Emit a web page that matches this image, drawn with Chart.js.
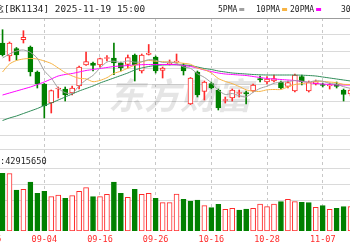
<!DOCTYPE html>
<html>
<head>
<meta charset="utf-8">
<script src="https://cdn.jsdelivr.net/npm/chart.js@4"></script>
<style>
html, body { margin: 0; padding: 0; background: #fff; }
canvas { display: block; }
</style>
</head>
<body>
<canvas id="kline" width="350" height="250"></canvas>
<script>
// trading days shown in the window (first two are left of the visible area)
const dates = ['08-25','08-26','08-27','08-28','08-29','09-01','09-02','09-03','09-04','09-05',
  '09-08','09-09','09-10','09-11','09-12','09-15','09-16','09-17','09-18','09-19',
  '09-22','09-23','09-24','09-25','09-26','09-29','09-30','10-09','10-10','10-13',
  '10-14','10-15','10-16','10-17','10-20','10-21','10-22','10-23','10-24','10-27',
  '10-28','10-29','10-30','10-31','11-03','11-04','11-05','11-06','11-07','11-10',
  '11-11','11-12','11-13'];

const openP = [null,null,1092,1079,1086.5,1095.3,1088,1063,1051,1032,1046,1046,1042,1049,1070,1072,1070,1076.5,1077,1072,
  1070.5,1080,1064,1080.5,1078,1064.5,1071,1073,1070,1031,1063,1043.5,1051.5,1045,1034.5,1037,1041.5,1042.5,1044,1056.5,
  1053,1054,1053,1048.5,1044,1058.5,1044,1051,1050.5,1049,1051,1045,1041];
const closeP = [null,null,1080.3,1092,1080,1097.7,1063,1051,1029,1044.5,1047,1040,1047,1068,1073.5,1069.5,1076.5,1077.5,1072,1067,
  1077.5,1070,1080,1082,1064,1067,1071.5,1074,1064,1057,1040,1053,1047,1027,1035.5,1045,1042,1041,1050,1055,
  1056,1056.5,1047,1052.5,1060,1053,1052.5,1053.5,1049.5,1049.5,1048.5,1040.5,1045];
const highP = [null,null,1105.3,1093,1087.5,1104.3,1089,1064,1051.5,1045,1048,1048,1049,1069,1083,1073,1077,1079.5,1092,1073,
  1080,1081,1081,1090.5,1079,1068,1075,1081,1071.5,1057.5,1064,1054,1053,1046,1038,1046,1045,1044,1051,1059,
  1058.5,1060,1054,1054,1061,1060,1054,1055,1052,1052,1053,1046,1046];
const lowP = [null,null,1079,1074,1075,1092,1059,1047,1017,1022,1037,1034,1040,1046,1069.5,1064,1068,1074,1060.3,1064,
  1067,1054,1062,1080,1062,1057,1070,1072,1060,1030.5,1038,1035,1046,1025,1032,1034,1038,1031,1043,1053,
  1051,1053,1046,1047,1043,1050,1043,1050,1048,1046,1047,1034,1039];

// volume, millions of shares
const volume = [null,null,57.7,57.5,41,41.7,49,37.7,39.7,34.3,36,32.7,35.3,39.7,43.3,34.3,34.3,36.7,49,37.7,
  33.7,41.7,36.7,37.7,32.7,28.3,28.3,37,31.7,30,31,25.3,23.3,26.7,21.7,22.7,21,22,22.7,27,
  24.3,27,29.3,31.7,29.3,28.7,28.3,23.7,25.3,21.7,22.7,24.3,24.3];

const ma5 = [null,null,1077,1081,1084,1085,1082.6,1076.7,1064.1,1057,1046.9,1042.3,1041.5,1049.3,1055.1,1059.6,1066.9,1073,1073.8,1072.5,
  1074.1,1072.8,1073.3,1075.3,1074.7,1072.6,1072.9,1071.7,1068.1,1066.7,1061.3,1057.6,1052.2,1044.8,1040.5,1041.5,1039.3,1038.1,1042.7,1046.6,
  1048.8,1051.7,1052.9,1053.4,1054.4,1053.8,1053,1054.3,1053.7,1051.6,1050.7,1048.3,1046.6];
const ma10 = [null,null,1063,1071,1074.5,1076,1076.5,1076,1074,1071.5,1067,1062.4,1059.1,1056.7,1056.1,1053.3,1054.6,1057.3,1061.6,1063.8,
  1066.9,1069.9,1073.2,1074.6,1073.6,1073.4,1072.9,1072.5,1071.7,1070.7,1067,1065.3,1062,1056.5,1053.6,1051.4,1048.5,1045.2,1043.8,1043.6,
  1045.2,1045.5,1045.5,1048.1,1050.5,1051.3,1052.4,1053.6,1053.6,1053,1052.3,1050.7,1050.5];
const ma20 = [null,null,1040,1042,1044,1046,1048,1050.5,1053,1056,1059,1060.5,1061.5,1063,1064.5,1065.5,1066.5,1067.5,1068.5,1069,
  1069.5,1070,1070.3,1070.5,1070.5,1070.5,1070.5,1070.3,1069.5,1068.5,1067,1065,1063.5,1062,1061,1060.5,1060,1059.5,1058.5,1057.5,
  1056.5,1056,1055.5,1055,1054.5,1053.5,1052.5,1051.5,1051,1050.5,1050,1050,1050];
const ma30 = [null,null,1014.5,1017,1019,1021.5,1024,1026.5,1029.5,1032,1035,1038,1041,1044,1046.5,1049,1052,1054.5,1057,1059.5,
  1062,1065,1067,1068.5,1069.5,1070,1070.2,1070.2,1070,1069.5,1068,1066.5,1065.5,1064,1063,1062,1061.5,1061,1060.5,1060.2,
  1060,1060,1060,1060,1060,1059.8,1059.5,1059,1058,1057,1056,1055,1054];

const tickDates = ['08-25','09-04','09-16','09-26','10-16','10-28','11-07'];
const priceTicks = [1000, 1016.7, 1033.4, 1050.1, 1066.9, 1083.6, 1100.3, 1117];
const volTicks = [14.5, 30.5, 47, 63, 82];
const maNames = ['5PMA', '10PMA', '20PMA', '30PMA'];
const lastVolume = '42915650';

const RED = '#ff2a2a';
const GREEN = '#008000';
const maColors = ['#a0a0a0', '#f7b343', '#ff00ff', '#2e8b57'];

// visible window
const xMin = 1.635, xMax = 51.92;

const idx = dates.map((d, i) => i).filter(i => closeP[i] != null);
const up = idx.map(i => closeP[i] >= openP[i]);
// volume colour follows close against previous close
const volUp = idx.map((i, k) => k === 0 ? closeP[i] >= openP[i] : closeP[i] >= closeP[idx[k - 1]]);

function linePts(arr) {
  return idx.map(i => ({ x: i, y: arr[i] }));
}

const maSets = [ma5, ma10, ma20, ma30].map((arr, k) => ({
  type: 'line',
  label: maNames[k],
  data: linePts(arr),
  yAxisID: 'y',
  borderColor: maColors[k],
  borderWidth: 1,
  pointRadius: 0,
  tension: 0.25,
  order: 0
}));

const overlay = {
  id: 'overlay',
  beforeDatasetsDraw(chart) {
    const ctx = chart.ctx;
    ctx.save();
    ctx.font = 'italic bold 36px "Noto Sans CJK SC"';
    ctx.fillStyle = 'rgba(0,0,0,0.1)';
    ctx.textAlign = 'center';
    ctx.textBaseline = 'middle';
    ctx.fillText('东方财富', 180, 95);
    ctx.restore();
  },
  afterDraw(chart) {
    const ctx = chart.ctx;
    const area = chart.chartArea;
    ctx.save();
    // top border
    ctx.strokeStyle = '#9c9c9c';
    ctx.lineWidth = 1;
    ctx.beginPath();
    ctx.moveTo(0, area.top + 0.5);
    ctx.lineTo(350, area.top + 0.5);
    ctx.stroke();

    ctx.fillStyle = '#222';
    ctx.textBaseline = 'alphabetic';
    ctx.font = '9.4px "DejaVu Sans Mono", "Noto Sans CJK SC"';
    const head = '算力概念';
    ctx.fillText(head, 4 - ctx.measureText(head).width, 12);
    ctx.fillText('[BK1134] 2025-11-19 15:00', 4, 12);

    // MA legend
    const legX = [218, 256, 290, 341];
    ctx.font = '8px "DejaVu Sans Mono"';
    maNames.forEach((n, k) => {
      ctx.fillStyle = '#222';
      ctx.fillText(n, legX[k], 12);
      const w = ctx.measureText(n).width;
      ctx.fillStyle = maColors[k];
      ctx.fillRect(legX[k] + w + 2, 8, 5, 3);
    });

    // volume readout
    ctx.fillStyle = '#222';
    ctx.font = '8.6px "DejaVu Sans Mono"';
    ctx.fillText(':' + lastVolume, 0, 163.5);
    ctx.restore();
  }
};

new Chart(document.getElementById('kline'), {
  type: 'bar',
  data: {
    datasets: [
      ...maSets,
      {
        label: 'body',
        data: idx.map(i => ({ x: i, y: [openP[i], closeP[i]] })),
        yAxisID: 'y',
        backgroundColor: up.map(u => u ? '#ffffff' : GREEN),
        borderColor: up.map(u => u ? RED : GREEN),
        borderWidth: 1,
        borderSkipped: false,
        barThickness: 5,
        minBarLength: 1,
        grouped: false,
        order: 1
      },
      {
        label: 'wick',
        data: idx.map(i => ({ x: i, y: [lowP[i], highP[i]] })),
        yAxisID: 'y',
        backgroundColor: up.map(u => u ? RED : GREEN),
        barThickness: 1,
        grouped: false,
        order: 2
      },
      {
        label: 'volume',
        data: idx.map(i => ({ x: i, y: volume[i] })),
        yAxisID: 'yv',
        backgroundColor: volUp.map(u => u ? '#ffffff' : GREEN),
        borderColor: volUp.map(u => u ? RED : GREEN),
        borderWidth: 1,
        borderSkipped: false,
        barThickness: 5,
        grouped: false,
        order: 3
      }
    ]
  },
  options: {
    responsive: false,
    animation: false,
    layout: { padding: { top: 18, left: 0, right: 0, bottom: 0 } },
    plugins: { legend: { display: false }, tooltip: { enabled: false } },
    scales: {
      x: {
        type: 'linear',
        min: xMin,
        max: xMax,
        offset: false,
        afterBuildTicks: s => { s.ticks = tickDates.map(d => ({ value: dates.indexOf(d) })); },
        afterFit: s => { s.height = 19; s.paddingLeft = 0; s.paddingRight = 0; },
        ticks: {
          autoSkip: false,
          maxRotation: 0,
          padding: 4,
          color: RED,
          font: { family: 'DejaVu Sans Mono', size: 8.5 },
          callback: v => dates[v]
        },
        grid: { color: '#c8c8c8', drawTicks: false, offset: false },
        border: { display: false, dash: [3, 3] }
      },
      y: {
        position: 'left',
        min: 904,
        max: 1117,
        afterBuildTicks: s => { s.ticks = priceTicks.map(v => ({ value: v })); },
        afterFit: s => { s.width = 0; },
        ticks: { display: false },
        grid: { color: '#dadada', drawTicks: false },
        border: { display: false }
      },
      yv: {
        position: 'right',
        min: 0,
        max: 213,
        afterBuildTicks: s => { s.ticks = volTicks.map(v => ({ value: v })); },
        afterFit: s => { s.width = 0; },
        ticks: { display: false },
        grid: { color: '#dadada', drawTicks: false },
        border: { display: false }
      }
    }
  },
  plugins: [overlay]
});
</script>
</body>
</html>
